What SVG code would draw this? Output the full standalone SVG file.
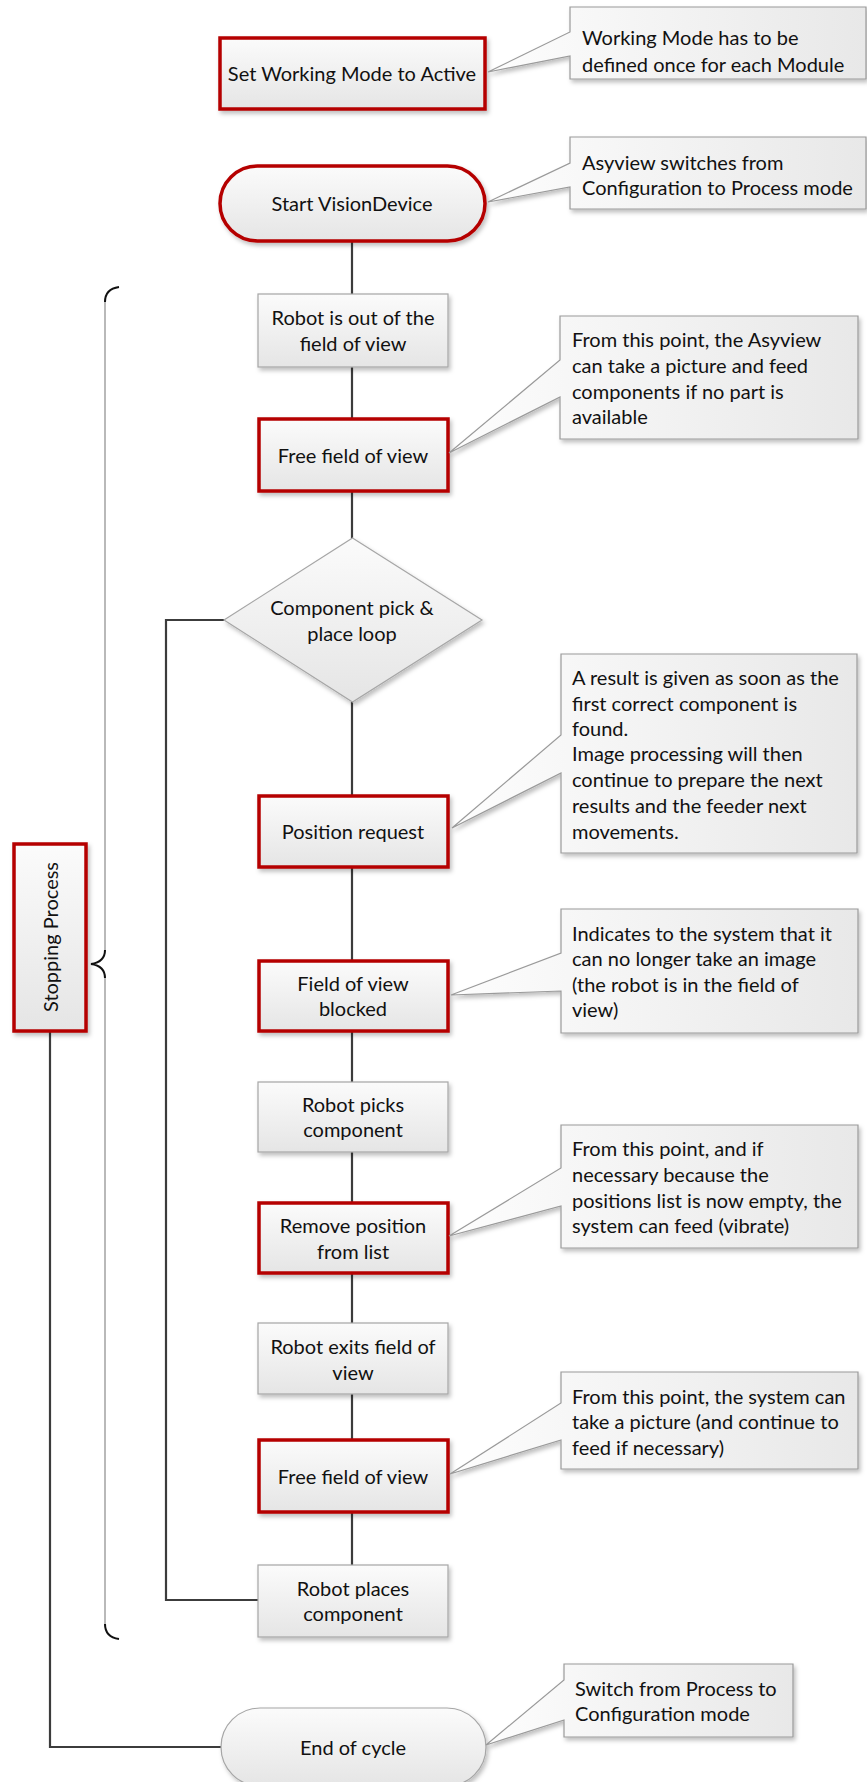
<svg xmlns="http://www.w3.org/2000/svg" width="867" height="1782" viewBox="0 0 867 1782">
<defs>
<linearGradient id="gBox" x1="0" y1="0" x2="0" y2="1"><stop offset="0" stop-color="#fbfbfb"/><stop offset="1" stop-color="#e5e5e5"/></linearGradient>
<linearGradient id="gCall" x1="0" y1="0" x2="1" y2="0"><stop offset="0" stop-color="#fdfdfd"/><stop offset="1" stop-color="#e8e8e8"/></linearGradient>
<filter id="sh" x="-10%" y="-10%" width="130%" height="130%"><feDropShadow dx="2" dy="3" stdDeviation="2" flood-color="#000" flood-opacity="0.25"/></filter>
</defs>
<style>
text{font-family:Lato,"Liberation Sans",sans-serif;font-size:20px;fill:#111;dominant-baseline:central}
.c{text-anchor:middle}
.red{fill:url(#gBox);stroke:#b50000;stroke-width:3.5;filter:url(#sh)}
.gray{fill:url(#gBox);stroke:#a6a6a6;stroke-width:1.2;filter:url(#sh)}
.call{fill:url(#gCall);stroke:#9a9a9a;stroke-width:1.2;filter:url(#sh)}
.con{fill:none;stroke:#3c3c3c;stroke-width:2.2}
.br{fill:none;stroke:#a8a8a8;stroke-width:1.6}
.bre{fill:none;stroke:#111;stroke-width:2}
</style>
<rect width="867" height="1782" fill="#fff"/>
<g id="connectors">
<path class="con" d="M352 241V294M352 367V418M352 492V538M352 702V795M352 868V960M352 1032V1082M352 1152V1202M352 1274V1323M352 1394V1439M352 1513V1565"/>
<path class="con" d="M258 1600H166V620H224"/>
<path class="con" d="M50 1032V1747H221"/>
</g>
<g id="bracket">
<path class="br" d="M105 300V952M105 976V1626"/>
<path class="bre" d="M119 287Q105 289 105 302"/>
<path class="bre" d="M105 950Q105 962 91 964Q105 966 105 978"/>
<path class="bre" d="M105 1624Q105 1637 119 1639"/>
</g>
<g id="n-setmode"><rect class="red" x="220" y="38" width="265" height="71"/><text class="c" x="352" y="73">Set Working Mode to Active</text></g>
<g id="c-setmode"><path class="call" d="M570 7H866V79H570V56L488 72L570 32Z"/><text x="582" y="37">Working Mode has to be</text><text x="582" y="64">defined once for each Module</text></g>
<g id="n-start"><rect class="red" x="220" y="166" width="265" height="75" rx="37.5"/><text class="c" x="352" y="203">Start VisionDevice</text></g>
<g id="c-start"><path class="call" d="M570 137H866V209H570V187L488 202L570 163Z"/><text x="582" y="162">Asyview switches from</text><text x="582" y="187">Configuration to Process mode</text></g>
<g id="n-robotout"><rect class="gray" x="258" y="294" width="190" height="73"/><text class="c" x="353" y="317">Robot is out of the</text><text class="c" x="353" y="343">field of view</text></g>
<g id="n-free1"><rect class="red" x="259" y="419" width="189" height="72"/><text class="c" x="353" y="455">Free field of view</text></g>
<g id="c-free1"><path class="call" d="M560 316H858V439H560V397L449 453L560 360Z"/><text x="572" y="339">From this point, the Asyview</text><text x="572" y="365">can take a picture and feed</text><text x="572" y="391">components if no part is</text><text x="572" y="416">available</text></g>
<g id="n-loop"><path class="gray" d="M352.5 538L482 620L352.5 702L224 620Z"/><text class="c" x="352" y="607">Component pick &amp;</text><text class="c" x="352" y="633">place loop</text></g>
<g id="n-posreq"><rect class="red" x="259" y="796" width="189" height="71"/><text class="c" x="353" y="831">Position request</text></g>
<g id="c-posreq"><path class="call" d="M561 654H857V853H561V773L452 828L561 735Z"/><text x="572" y="677">A result is given as soon as the</text><text x="572" y="703">first correct component is</text><text x="572" y="728">found.</text><text x="572" y="753">Image processing will then</text><text x="572" y="779">continue to prepare the next</text><text x="572" y="805">results and the feeder next</text><text x="572" y="831">movements.</text></g>
<g id="n-stop"><rect class="red" x="14" y="844" width="72" height="187"/><text class="c" transform="translate(50 937) rotate(-90)" x="0" y="0">Stopping Process</text></g>
<g id="n-blocked"><rect class="red" x="259" y="961" width="189" height="70"/><text class="c" x="353" y="983">Field of view</text><text class="c" x="353" y="1008">blocked</text></g>
<g id="c-blocked"><path class="call" d="M561 909H858V1033H561V991L451 995L561 953Z"/><text x="572" y="933">Indicates to the system that it</text><text x="572" y="958">can no longer take an image</text><text x="572" y="984">(the robot is in the field of</text><text x="572" y="1009">view)</text></g>
<g id="n-picks"><rect class="gray" x="258" y="1082" width="190" height="70"/><text class="c" x="353" y="1104">Robot picks</text><text class="c" x="353" y="1129">component</text></g>
<g id="n-remove"><rect class="red" x="259" y="1203" width="189" height="70"/><text class="c" x="353" y="1225">Remove position</text><text class="c" x="353" y="1251">from list</text></g>
<g id="c-remove"><path class="call" d="M561 1125H858V1248H561V1206L449 1236L561 1168Z"/><text x="572" y="1148">From this point, and if</text><text x="572" y="1174">necessary because the</text><text x="572" y="1200">positions list is now empty, the</text><text x="572" y="1225">system can feed (vibrate)</text></g>
<g id="n-exits"><rect class="gray" x="258" y="1323" width="190" height="71"/><text class="c" x="353" y="1346">Robot exits field of</text><text class="c" x="353" y="1372">view</text></g>
<g id="n-free2"><rect class="red" x="259" y="1440" width="189" height="72"/><text class="c" x="353" y="1476">Free field of view</text></g>
<g id="c-free2"><path class="call" d="M561 1372H858V1469H561V1440L450 1474L561 1403Z"/><text x="572" y="1396">From this point, the system can</text><text x="572" y="1421">take a picture (and continue to</text><text x="572" y="1447">feed if necessary)</text></g>
<g id="n-places"><rect class="gray" x="258" y="1565" width="190" height="72"/><text class="c" x="353" y="1588">Robot places</text><text class="c" x="353" y="1613">component</text></g>
<g id="n-end"><rect class="gray" x="221" y="1708" width="265" height="78" rx="39"/><text class="c" x="353" y="1747">End of cycle</text></g>
<g id="c-end"><path class="call" d="M564 1664H793V1737H564V1720L486 1745L564 1680Z"/><text x="575" y="1688">Switch from Process to</text><text x="575" y="1713">Configuration mode</text></g>
</svg>
